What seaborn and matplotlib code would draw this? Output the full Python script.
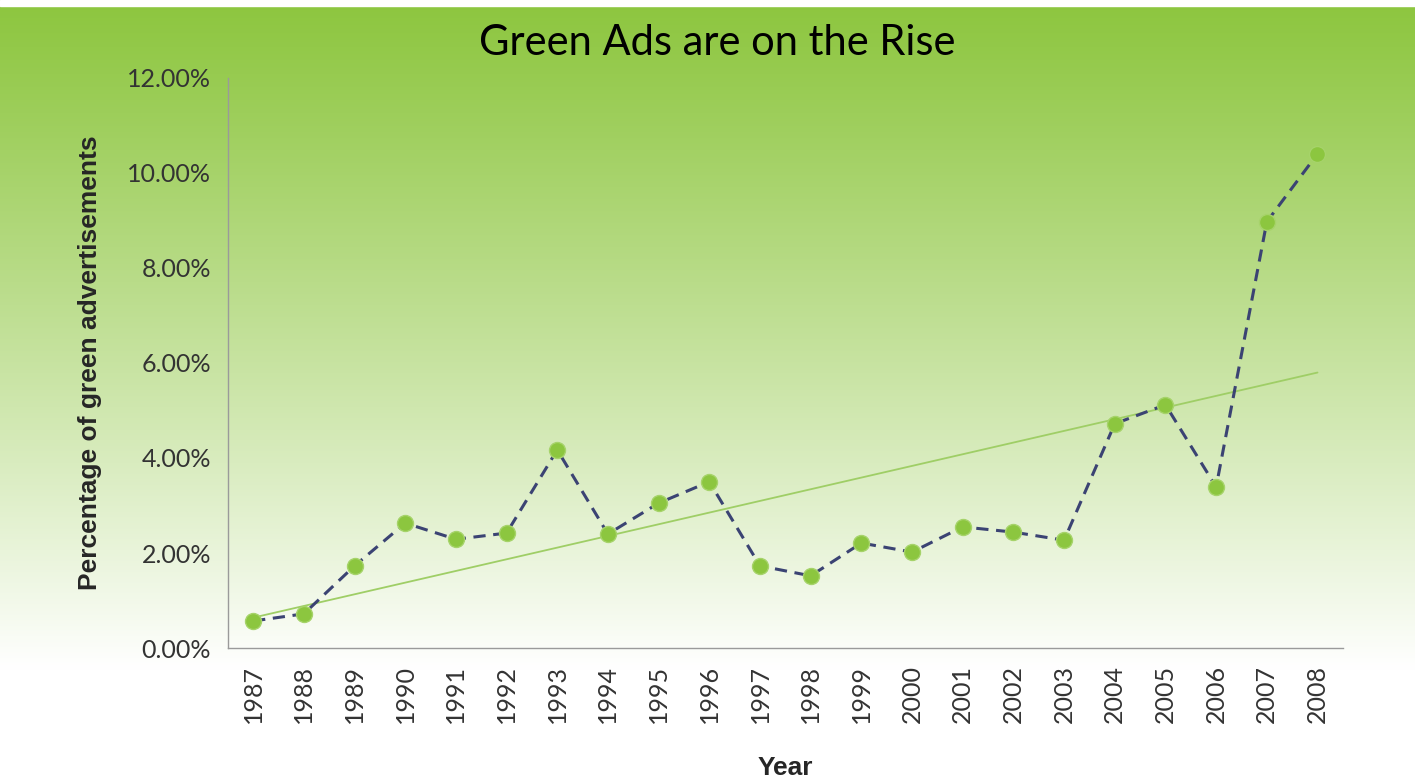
import matplotlib
matplotlib.use("Agg")
import matplotlib.pyplot as plt
from matplotlib.ticker import FuncFormatter, FixedLocator
import numpy as np
import pandas as pd
import seaborn as sns

# data
years = [str(y) for y in range(1987, 2009)]
green_share = [0.57, 0.72, 1.73, 2.63, 2.29, 2.42, 4.17, 2.40, 3.05, 3.50, 1.73,
               1.52, 2.21, 2.02, 2.55, 2.44, 2.27, 4.72, 5.12, 3.39, 8.97, 10.40]
y_ticks = [0, 2, 4, 6, 8, 10, 12]

df = pd.DataFrame({'Year': years, 'Share': green_share})
df['pos'] = np.arange(len(years))

sns.set_style('white')
plt.rcParams['font.family'] = ['Lato', 'DejaVu Sans']

fig = plt.figure(figsize=(14.15, 7.78), dpi=100)

# green to white gradient background
bg = fig.add_axes([0, 0, 1, 1], zorder=-10)
top = np.array([141, 198, 63]) / 255.0
t = np.linspace(0, 1, 400)
frac = np.clip(t / 0.86, 0, 1) ** 1.1
cols = top[None, :] * (1 - frac[:, None]) + np.ones(3)[None, :] * frac[:, None]
grad = np.repeat(cols[:, None, :], 2, axis=1)
bg.imshow(grad, aspect='auto', extent=[0, 1, 0, 1], origin='upper')
bg.axhspan(0.992, 1.0, color='white')
bg.set_xlim(0, 1)
bg.set_ylim(0, 1)
bg.axis('off')

ax = fig.add_axes([0.161, 0.167, 0.788, 0.733])
ax.patch.set_alpha(0)

# linear trend
coef = np.polyfit(df['pos'], df['Share'], 1)
ax.plot(df['pos'], np.polyval(coef, df['pos']), color='#9fce66', lw=1.3, zorder=2)

sns.lineplot(data=df, x='pos', y='Share', ax=ax, color='#3b4373', lw=2.2,
             linestyle=(0, (4, 2.5)), marker='o', markersize=11.5,
             markerfacecolor='#8cc63f', markeredgecolor='#a6d36a',
             markeredgewidth=1, zorder=3)

ax.set_xlim(-0.5, len(years) - 0.5)
ax.set_ylim(0, 12)
ax.set_yticks(y_ticks)
ax.yaxis.set_major_formatter(FuncFormatter(lambda v, p: f'{v:.2f}%'))
ax.set_xticks(df['pos'])
ax.set_xticklabels(years, rotation=90)
ax.xaxis.set_minor_locator(FixedLocator(np.arange(-0.5, len(years), 1)))
ax.tick_params(axis='x', which='major', length=0, pad=12, labelsize=18, labelcolor='#333333')
ax.tick_params(axis='x', which='minor', length=8, color='#9a9a9a', width=1, direction='out')
ax.tick_params(axis='y', length=6, color='#9a9a9a', width=1, direction='out',
               pad=6, labelsize=18, labelcolor='#333333')

for s in ['top', 'right']:
    ax.spines[s].set_visible(False)
for s in ['left', 'bottom']:
    ax.spines[s].set_color('#9a9a9a')
    ax.spines[s].set_linewidth(1)

ax.set_xlabel('Year', fontsize=19, fontweight='bold', family='Liberation Sans', labelpad=24)
ax.set_ylabel('Percentage of green advertisements', fontsize=19, fontweight='bold',
              family='Liberation Sans', labelpad=18)

fig.text(0.507, 0.945, 'Green Ads are on the Rise', ha='center', va='center',
         fontsize=30, color='black')

fig.savefig('out.png', dpi=100)
